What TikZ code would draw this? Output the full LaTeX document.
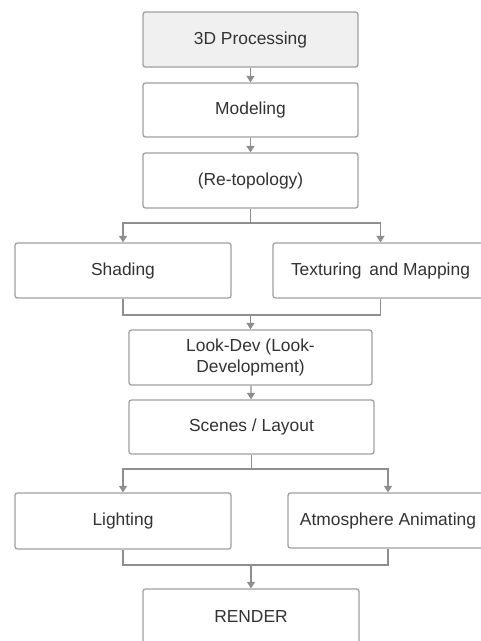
\documentclass[tikz,border=0pt]{standalone}
\usepackage{fontspec}
\setmainfont{Liberation Sans}
\usetikzlibrary{arrows.meta}
\definecolor{linegray}{HTML}{8E8E8E}
\definecolor{boxgray}{HTML}{A0A0A0}
\definecolor{txtgray}{HTML}{333333}
\definecolor{topfill}{HTML}{F0F0F0}
\tikzset{
  stepbox/.style={draw=boxgray, line width=1.3pt, rounded corners=2.5pt, fill=white,
    minimum height=55pt, inner sep=0pt, align=center, text=txtgray,
    font=\fontsize{17.4pt}{20.5pt}\selectfont},
  conn/.style={draw=linegray, line width=1.3pt},
  arr/.style={conn, -{Triangle[width=8pt,length=6.5pt]}}
}
\begin{document}
\begin{tikzpicture}[x=1pt,y=-1pt]
\useasboundingbox (0,0) rectangle (481,641);
\clip (0,0) rectangle (481,641);
\fill[white] (0,0) rectangle (481,641);
\node[stepbox, fill=topfill, minimum width=215pt] (proc) at (250.5,39.5) {3D Processing};
\node[stepbox, minimum width=215pt, minimum height=54pt] (model) at (250.5,110) {Modeling};
\node[stepbox, minimum width=215pt] (retopo) at (250.5,180.5) {(Re-topology)};
\node[stepbox, minimum width=216pt] (shading) at (123,270.5) {Shading};
\node[stepbox, minimum width=215pt] (textur) at (380.5,270.5) {Texturing\ \,and Mapping};
\node[stepbox, minimum width=243pt] (lookdev) at (250.5,357.5) {Look-Dev (Look-\\Development)};
\node[stepbox, minimum width=245pt, minimum height=54pt] (scenes) at (251.5,427) {Scenes / Layout};
\node[stepbox, minimum width=216pt, minimum height=56pt] (lighting) at (123,521) {Lighting};
\node[stepbox, minimum width=200pt] (atmos) at (388,520.5) {Atmosphere Animating};
\node[stepbox, minimum width=216pt] (render) at (251,616.5) {RENDER};

\draw[arr] (proc) -- (model);
\draw[arr] (model) -- (retopo);

\coordinate (s1) at (250.5,223);
\draw[conn] (retopo.south) -- (s1);
\draw[arr] (s1) -| (shading.north);
\draw[arr] (s1) -| (textur.north);

\coordinate (m1) at (250.5,315);
\draw[conn] (shading.south) |- (m1);
\draw[conn] (textur.south) |- (m1);
\draw[arr] (m1) -- (lookdev.north);

\draw[arr] (lookdev) -- (scenes);

\coordinate (s2) at (251.5,469);
\draw[conn] (scenes.south) -- (s2);
\draw[arr] (s2) -| (lighting.north);
\draw[arr] (s2) -| (atmos.north);

\coordinate (m2) at (251,565);
\draw[conn] (lighting.south) |- (m2);
\draw[conn] (atmos.south) |- (m2);
\draw[arr] (m2) -- (render.north);
\end{tikzpicture}
\end{document}
